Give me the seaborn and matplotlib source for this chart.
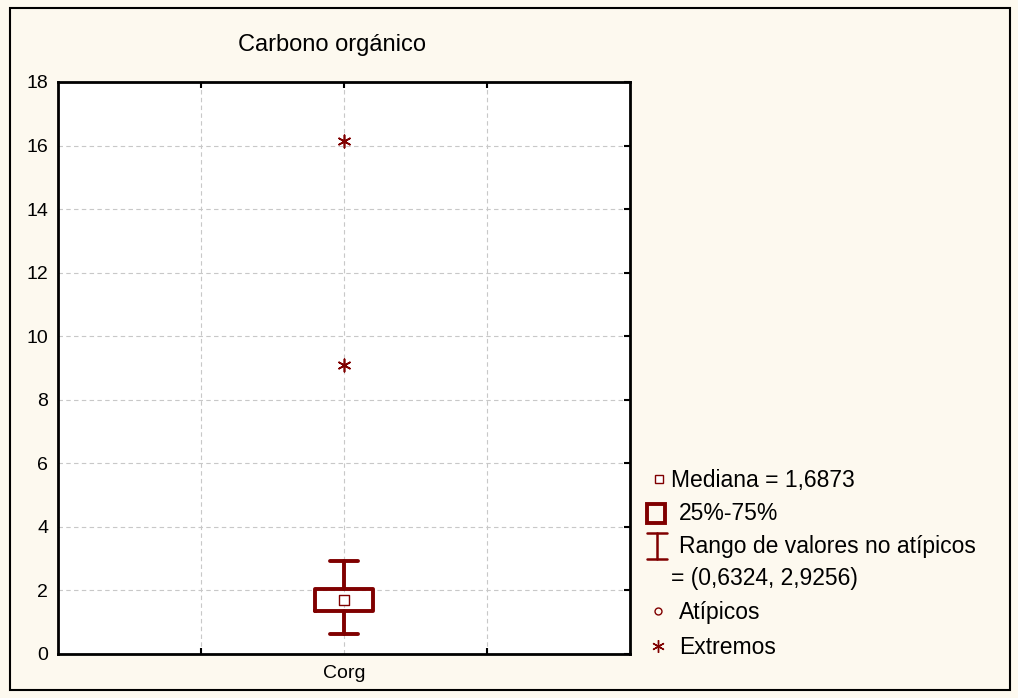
import matplotlib
matplotlib.use("Agg")
import matplotlib.pyplot as plt
import seaborn as sns
import pandas as pd
from matplotlib.patches import Rectangle
from matplotlib.lines import Line2D

# ---- data ----
category = ["Corg"]
median = [1.6873]
q1 = [1.35]
q3 = [2.05]
whisker_low = [0.6324]
whisker_high = [2.9256]
extremes = [16.15, 9.1]
title = "Carbono orgánico"
legend_labels = ["Mediana = 1,6873", "25%-75%", "Rango de valores no atípicos",
                 "= (0,6324, 2,9256)", "Atípicos", "Extremos"]

sns.set_style("white")
plt.rcParams['font.family'] = ['Liberation Sans', 'DejaVu Sans']
plt.rcParams['text.color'] = 'black'

RED = "#800000"
BG = "#FDF9EF"

fig = plt.figure(figsize=(10.18, 6.98), dpi=100, facecolor=BG)
ax = fig.add_axes([58/1018, 1-654/698, (630-58)/1018, (654-82)/698])
ax.set_facecolor("white")

stats = [dict(med=median[0], q1=q1[0], q3=q3[0], whislo=whisker_low[0],
              whishi=whisker_high[0], fliers=[], label=category[0])]
ax.bxp(stats, positions=[0], widths=0.2, showfliers=False, manage_ticks=False,
       boxprops=dict(color=RED, linewidth=2.8),
       whiskerprops=dict(color=RED, linewidth=2.8),
       capprops=dict(color=RED, linewidth=2.8),
       medianprops=dict(linewidth=0), capwidths=0.1)
ax.scatter([0], median, marker="s", s=45, facecolor="white", edgecolor=RED, linewidth=1, zorder=5)

ext_df = pd.DataFrame({"x": [0]*len(extremes), "y": extremes})
sns.scatterplot(data=ext_df, x="x", y="y", marker=(6, 2, 0), s=80, color=RED,
                linewidth=1.2, ax=ax, zorder=5)

ax.set_xlim(-1, 1)
ax.set_ylim(0, 18)
ax.set_yticks(range(0, 19, 2))
ax.set_xticks([0])
ax.set_xticklabels(category)
ax.set_xlabel("")
ax.set_ylabel("")
ax.set_xticks([-0.5, 0.5], minor=True)
ax.grid(True, which="both", color="#c8c8c8", linestyle=(0, (4, 3)), linewidth=0.8)
ax.set_axisbelow(True)
ax.tick_params(axis="both", which="both", direction="in", length=4, width=1.5,
               top=True, right=True, labelsize=14, colors="black", labelcolor="black")
ax.tick_params(axis="y", pad=7)
ax.tick_params(axis="x", pad=8)
ax.tick_params(axis="both", which="minor", direction="in", length=4, width=1.5,
               top=True, bottom=True)
for s in ax.spines.values():
    s.set_linewidth(2)
    s.set_color("black")

fig.text(332/1018, 1-45/698, title, ha="center", va="center", fontsize=17, color="black")

# figure frame
fig.patches.append(Rectangle((10/1018, 1-690/698), 1000/1018, 682/698, transform=fig.transFigure,
                             fill=False, edgecolor="black", linewidth=1.5))

# legend
fs = 16.5
tx = 679/1018
ys = [481, 514, 546, 579, 613, 647]
def fy(y):
    return 1 - y/698
# median marker
fig.add_artist(Line2D([659/1018], [fy(479)], marker="s", markersize=6, markerfacecolor="white",
                      markeredgecolor=RED, markeredgewidth=1, transform=fig.transFigure))
fig.text(671/1018, fy(ys[0]), legend_labels[0], va="center", fontsize=fs, color="black")
# box marker
fig.add_artist(Rectangle((647/1018, fy(523)), 18/1018, 19/698, transform=fig.transFigure,
                         fill=False, edgecolor=RED, linewidth=2.8))
fig.text(tx, fy(ys[1]), legend_labels[1], va="center", fontsize=fs, color="black")
# whisker marker
fig.add_artist(Line2D([657/1018, 657/1018], [fy(533), fy(559)], color=RED, linewidth=1.8,
                      transform=fig.transFigure))
fig.add_artist(Line2D([647/1018, 667/1018], [fy(533), fy(533)], color=RED, linewidth=1.8,
                      transform=fig.transFigure))
fig.add_artist(Line2D([647/1018, 667/1018], [fy(559), fy(559)], color=RED, linewidth=1.8,
                      transform=fig.transFigure))
fig.text(tx, fy(ys[2]), legend_labels[2], va="center", fontsize=fs, color="black")
fig.text(671/1018, fy(ys[3]), legend_labels[3], va="center", fontsize=fs, color="black")
# outlier marker
fig.add_artist(Line2D([658/1018], [fy(611)], marker="o", markersize=5, markerfacecolor="none",
                      markeredgecolor=RED, markeredgewidth=1, transform=fig.transFigure))
fig.text(tx, fy(ys[4]), legend_labels[4], va="center", fontsize=fs, color="black")
# extreme marker
fig.add_artist(Line2D([658/1018], [fy(646)], marker=(6, 2, 0), markersize=9, color=RED,
                      markeredgewidth=1, transform=fig.transFigure))
fig.text(tx, fy(ys[5]), legend_labels[5], va="center", fontsize=fs, color="black")

fig.savefig("out.png", dpi=100, facecolor=BG)
